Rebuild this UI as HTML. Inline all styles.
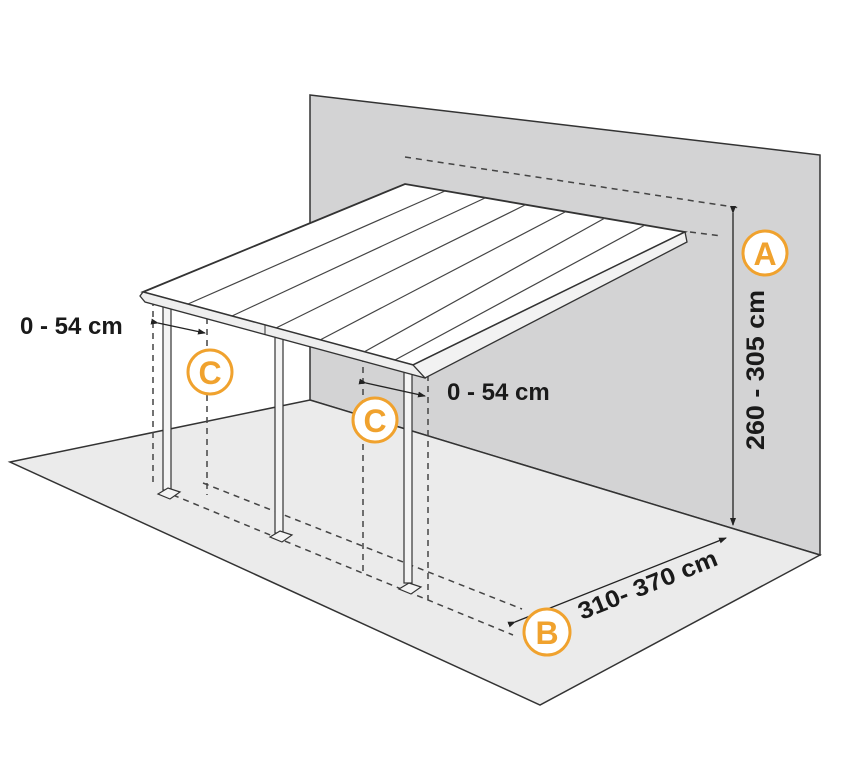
<!DOCTYPE html>
<html><head><meta charset="utf-8"><style>
html,body{margin:0;padding:0;background:#fff;width:850px;height:758px;overflow:hidden}
svg{display:block}
text{font-family:"Liberation Sans",sans-serif;font-weight:bold}
</style></head><body>
<svg width="850" height="758" viewBox="0 0 850 758" xmlns="http://www.w3.org/2000/svg">
<polygon points="310,95 820,155 820,555 310,400" fill="#d3d3d4" stroke="#333" stroke-width="1.5"/>
<polygon points="10,462 310,400 820,555 540,705" fill="#ebebeb" stroke="#333" stroke-width="1.5"/>
<g stroke="#444" stroke-width="1.5" stroke-dasharray="6,5" fill="none">
<line x1="405" y1="157" x2="740" y2="208"/>
<line x1="690" y1="232" x2="722" y2="236"/>
<line x1="153" y1="300" x2="153" y2="485"/>
<line x1="207" y1="318" x2="207" y2="495"/>
<line x1="363" y1="345" x2="363" y2="572"/>
<line x1="428" y1="375" x2="428" y2="600"/>
<line x1="203" y1="483" x2="522" y2="609"/>
<line x1="173" y1="495" x2="513" y2="635"/>
</g>
<g fill="#f4f4f4" stroke="#333" stroke-width="1.2">
<rect x="163" y="305" width="8" height="185"/>
<rect x="275" y="333" width="8" height="200"/>
<rect x="404" y="370" width="8" height="213"/>
<polygon points="158,494 168,488 180,492 170,499"/>
<polygon points="270,537 280,531 292,535 282,542"/>
<polygon points="399,589 409,583 421,587 411,594"/>
</g>
<polygon points="143,292 405,184 685,232 413,365" fill="#fff" stroke="#333" stroke-width="1.8"/>
<g stroke="#444" stroke-width="1.2">
<line x1="188" y1="304" x2="445" y2="191"/>
<line x1="232" y1="316" x2="485" y2="198"/>
<line x1="276" y1="328" x2="525" y2="205"/>
<line x1="320" y1="340" x2="565" y2="212"/>
<line x1="364" y1="352" x2="605" y2="218"/>
<line x1="395" y1="360" x2="645" y2="225"/>
</g>
<polygon points="143,292 413,365 425,372 425,378 145,302 140,296" fill="#eee" stroke="#333" stroke-width="1.3"/>
<line x1="265" y1="325" x2="265" y2="335" stroke="#333"/>
<polygon points="413,365 685,232 687,242 425,378" fill="#f2f2f2" stroke="#333" stroke-width="1.3"/>
<defs><marker id="ah" markerWidth="8" markerHeight="8" refX="7" refY="4" orient="auto" markerUnits="userSpaceOnUse"><path d="M0,1 L8,4 L0,7 Z" fill="#222"/></marker></defs>
<g stroke="#222" stroke-width="1.3" fill="none">
<line x1="158" y1="323" x2="205" y2="333" marker-start="url(#ah)" marker-end="url(#ah)"/>
<line x1="366" y1="383" x2="425" y2="396" marker-start="url(#ah)" marker-end="url(#ah)"/>
<line x1="733" y1="213" x2="733" y2="525" marker-start="url(#ah)" marker-end="url(#ah)"/>
<line x1="515" y1="622" x2="726" y2="538" marker-start="url(#ah)" marker-end="url(#ah)"/>
</g>
<g fill="#fff" stroke="#f0a22e" stroke-width="3">
<circle cx="765" cy="253" r="22"/>
<circle cx="547" cy="632" r="23"/>
<circle cx="210" cy="372" r="22"/>
<circle cx="375" cy="420" r="22"/>
</g>
<g fill="#f0a22e" font-size="32" text-anchor="middle">
<text x="765" y="265">A</text>
<text x="547" y="644">B</text>
<text x="210" y="384">C</text>
<text x="375" y="432">C</text>
</g>
<g fill="#1a1a1a" font-size="24">
<text x="20" y="334">0 - 54 cm</text>
<text x="447" y="400">0 - 54 cm</text>
<text transform="translate(764,450) rotate(-90)" font-size="25" textLength="160" lengthAdjust="spacingAndGlyphs">260 - 305 cm</text>
<text transform="translate(582,620) rotate(-22)" textLength="148" lengthAdjust="spacingAndGlyphs">310- 370 cm</text>
</g>
</svg>
</body></html>
